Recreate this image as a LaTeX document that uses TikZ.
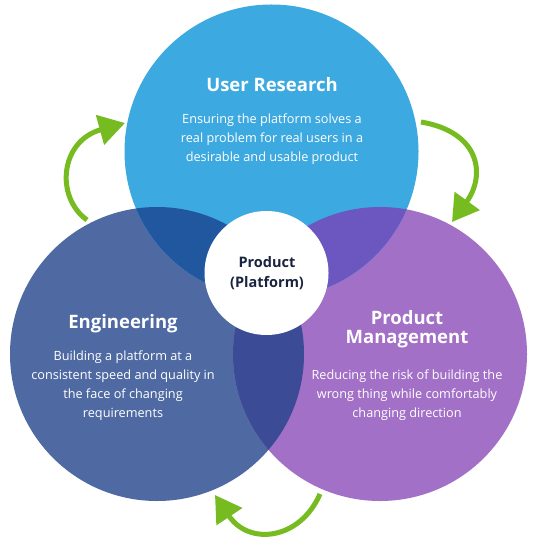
\documentclass[tikz,border=0pt]{standalone}
\usepackage{fontspec}
\setmainfont{Open Sans}
\usetikzlibrary{arrows.meta}
\definecolor{urblue}{HTML}{3DA9E1}
\definecolor{engblue}{HTML}{4F6AA3}
\definecolor{pmpurple}{HTML}{A370C7}
\definecolor{ovtl}{HTML}{21579E}
\definecolor{ovtr}{HTML}{6B57BF}
\definecolor{ovb}{HTML}{3B4B95}
\definecolor{coretext}{HTML}{1A2440}
\definecolor{arrowgreen}{HTML}{76BC21}
\tikzset{
  bigcircle/.style={circle, inner sep=0pt, minimum size=294bp},
  titletext/.style={text=white, font=\fontsize{18.5bp}{19bp}\selectfont\bfseries, align=center},
  bodytext/.style={text=white, font=\fontsize{12.7bp}{19bp}\selectfont, align=center},
  cycarrow/.style={draw=arrowgreen, line width=5bp, -{Triangle[length=26bp,width=30bp]}}
}
\begin{document}
\begin{tikzpicture}[x=1bp,y=-1bp]
\useasboundingbox (0,0) rectangle (541,545);
\fill[white] (0,0) rectangle (541,545);
% circles
\node[bigcircle, fill=engblue] (eng) at (157,354) {};
\node[bigcircle, fill=pmpurple] (pm) at (380,354) {};
\node[bigcircle, fill=urblue] (ur) at (271.5,151.5) {};
% overlaps
\begin{scope}
  \clip (157,354) circle[radius=147];
  \fill[ovtl] (271.5,151.5) circle[radius=147];
\end{scope}
\begin{scope}
  \clip (380,354) circle[radius=147];
  \fill[ovtr] (271.5,151.5) circle[radius=147];
\end{scope}
\begin{scope}
  \clip (157,354) circle[radius=147];
  \fill[ovb] (380,354) circle[radius=147];
\end{scope}
% core
\node[circle, fill=white, inner sep=0pt, minimum size=124bp] (core) at (266.5,273) {};
\node[text=coretext, font=\fontsize{14.5bp}{20bp}\selectfont\bfseries, align=center] (coretxt) at (267,273) {Product\\(Platform)};
% texts
\node[titletext] (urtitle) at (272,85) {User Research};
\node[bodytext] (urbody) at (272,139) {Ensuring the platform solves a\\real problem for real users in a\\desirable and usable product};
\node[titletext] (engtitle) at (123,324) {Engineering};
\node[bodytext] (engbody) at (123,386) {Building a platform at a\\consistent speed and quality in\\the face of changing\\requirements};
\node[titletext] (pmtitle) at (407,329) {Product\\Management};
\node[bodytext] (pmbody) at (407,395) {Reducing the risk of building the\\wrong thing while comfortably\\changing direction};
% arrows
\coordinate (a1s) at (87,220);
\coordinate (a1e) at (125,123);
\coordinate (a2s) at (421,122);
\coordinate (a2e) at (452,222);
\coordinate (a3s) at (320,494);
\coordinate (a3e) at (215,495);
\draw[cycarrow] (a1s) .. controls (55,197) and (60,141) .. (a1e);
\draw[cycarrow] (a2s) .. controls (480,132) and (486,175) .. (a2e);
\draw[cycarrow] (a3s) .. controls (300,540) and (249,546) .. (a3e);
\end{tikzpicture}
\end{document}
